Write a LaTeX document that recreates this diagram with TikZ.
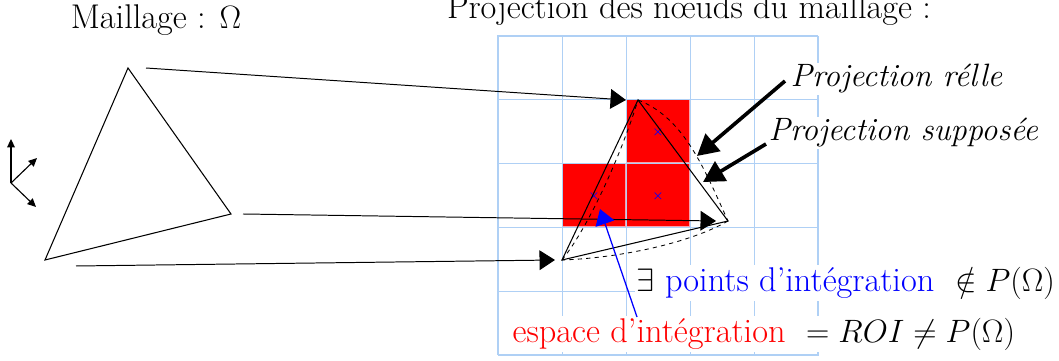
\RequirePackage{fix-cm}
\documentclass[tikz,border=0pt]{standalone}
\usepackage{fontspec}
\usepackage{xcolor}
\usepackage{amsmath}
\usepackage{amssymb}
\usetikzlibrary{arrows.meta,positioning,calc}
\definecolor{gridBlue}{RGB}{175, 208, 245}
\definecolor{roiRed}  {RGB}{255,   0,   0}
\definecolor{roiPink} {RGB}{250, 160, 170}
\newcommand{\mathtxt}[1]{{\fontsize{23}{27}\selectfont$#1$}}
\newcommand{\italtxt}[1]{{\fontsize{23}{27}\selectfont\itshape #1}}
\tikzset{
  label font/.style={font=\fontsize{24.4}{29}\selectfont,inner sep=1pt},
  label box/.style={label font,fill=white,anchor=west},
  fleche/.style={-{Triangle[length=11pt,width=14pt]},line width=0.7pt},
  fleche forte/.style={-{Triangle[length=15pt,width=16pt]},line width=2.6pt},
  pointille/.style={dashed,line width=0.6pt},
  contour/.style={line width=0.75pt},
  axe/.style={-{Triangle[length=6pt,width=5.5pt]},line width=0.8pt}
}
\begin{document}
\begin{tikzpicture}[x=0.025cm,y=0.025cm]

    \useasboundingbox (0,0) rectangle (1059,361);

    % cases rouges
    \foreach \x/\y in {626/198, 562/134, 626/134}{
      \fill[roiPink] (\x,\y-1) rectangle +(65,65);
      \fill[roiRed] (\x,\y+1) rectangle +(63,63);
    }

    % grille
    \foreach \x in {562,626,690,754}{
      \draw[gridBlue,line width=0.65pt] (\x,6) -- (\x,325);
    }
    \foreach \y in {70,134,198,262}{
      \draw[gridBlue,line width=0.65pt] (498,\y) -- (818,\y);
    }
    \draw[gridBlue,line width=1.1pt] (498,6) -- (498,325) -- (818,325);
    \draw[gridBlue,line width=1.9pt] (818,325) -- (818,6) -- (498,6);

    % points d'integration
    \foreach \x/\y/\nom in {658/229/pa, 658/165/pb, 594/165/pc}{
      \node[blue,font=\small\boldmath,inner sep=0pt] (\nom) at (\x,\y) {$\times$};
    }

    % textes
    \node[label font] (maillage) at (156,341) {Maillage : \mathtxt{\Omega}};
    \node[label font] (nuage) at (689,351) {Projection des nœuds du maillage :};
    \node[label box] (reelle) at (789,282) {\italtxt{Projection rélle}};
    \node[label box] (supposee) at (767,228) {\italtxt{Projection supposée}};
    \node[label box] (points) at (635,78)
      {\mathtxt{\exists} \textcolor{blue}{points d'intégration}\ \ \mathtxt{\notin P(\Omega)}};
    \node[label box] (espace) at (511,27)
      {\textcolor{red}{espace d'intégration}\ \ \mathtxt{= ROI \neq P(\Omega)}};

    % maillage
    \coordinate (A) at (128,293);
    \coordinate (B) at (231,147);
    \coordinate (C) at (45,101);
    \draw[contour] (A) -- (B) -- (C) -- cycle;

    % projection
    \coordinate (Ap) at (638,261);
    \coordinate (Bp) at (728,140);
    \coordinate (Cp) at (562,101);
    \draw[contour] (Ap) -- (Bp) -- (Cp) -- cycle;
    \draw[pointille] (Ap) .. controls (685,243) and (705,190) .. (Bp);
    \draw[pointille] (Bp) .. controls (690,118) and (620,103) .. (Cp);
    \draw[pointille] (Cp) .. controls (590,136) and (622,209) .. (Ap);

    % fleches maillage vers projection
    \coordinate (A1) at (146,293);
    \coordinate (A2) at (626,261);
    \coordinate (B1) at (243,147);
    \coordinate (B2) at (716,140);
    \coordinate (C1) at (76,95);
    \coordinate (C2) at (555,101);
    \draw[fleche] (A1) -- (A2);
    \draw[fleche] (B1) -- (B2);
    \draw[fleche] (C1) -- (C2);

    % repere
    \coordinate (O) at (11,178);
    \coordinate (Ox) at (11,222);
    \coordinate (Oy) at (37,203);
    \coordinate (Oz) at (36,154);
    \draw[axe] (O) -- (Ox);
    \draw[axe] (O) -- (Oy);
    \draw[axe] (O) -- (Oz);

    % fleches vers les projections
    \coordinate (R1) at (785,280);
    \coordinate (R2) at (697,205);
    \coordinate (S1) at (766,217);
    \coordinate (S2) at (703,179);
    \draw[fleche forte] (R1) -- (R2);
    \draw[fleche forte] (S1) -- (S2);
    \coordinate (E1) at (637,44);
    \coordinate (E2) at (600,152);
    \draw[blue,-{Triangle[length=11pt,width=14pt]},line width=0.9pt] (E1) -- (E2);

  \end{tikzpicture}
\end{document}
